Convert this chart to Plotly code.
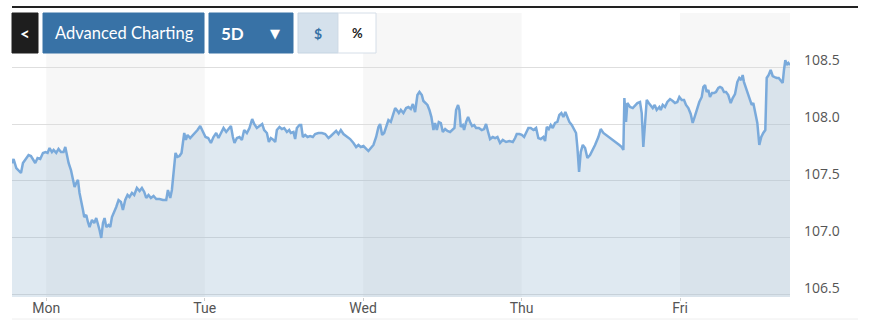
import plotly.graph_objects as go

# ---- data (hours since Monday 00:00, price) ----
hours = [
    -5.19, -4.95, -4.54, -4.19, -3.83, -3.53, -3.18, -2.68, -2.32, -1.92,
    -1.67, -1.32, -0.91, -0.50, -0.11, 0.20, 0.50, 0.86, 1.11, 1.51,
    1.86, 2.23, 2.62, 2.88, 3.13, 3.38, 3.74, 4.04, 4.29, 4.54,
    4.80, 5.04, 5.30, 5.56, 5.75, 6.06, 6.31, 6.56, 6.92, 7.27,
    7.57, 7.77, 8.07, 8.33, 8.59, 8.83, 9.09, 9.43, 9.69, 9.95,
    10.30, 10.60, 10.95, 11.31, 11.61, 11.96, 12.31, 12.61, 12.98, 13.32,
    13.73, 14.13,
    14.49, 14.84, 15.14, 15.49, 15.85, 16.25, 16.66, 17.16, 17.67, 18.17,
    18.43, 18.78, 19.03, 19.28, 19.58, 19.88, 20.18, 20.49, 20.70, 20.90,
    21.15, 21.40, 21.80, 22.21, 22.56, 22.91, 23.32, 23.73, 24.12, 24.53,
    24.94, 25.33, 25.74, 26.09, 26.50, 26.85, 27.26, 27.66, 27.97, 28.27,
    28.51, 28.88, 29.27, 29.63, 29.98, 30.39, 30.78, 31.19, 31.50, 31.90,
    32.30, 32.71, 33.01, 33.42, 33.72,
    34.02, 34.42, 34.68, 34.93, 35.33, 35.69, 36.04, 36.45, 36.80, 37.05,
    37.45, 37.70, 37.96, 38.36, 38.61, 38.87, 39.22, 39.57, 39.97, 40.38,
    40.73, 41.23, 41.75, 42.25, 42.75, 43.11, 43.50, 43.91, 44.26, 44.62,
    45.02, 45.53, 46.03, 46.53, 46.94, 47.29, 47.65, 48.05, 48.45, 48.80,
    49.17, 49.56, 49.97, 50.32, 50.57, 50.88, 51.18, 51.48, 51.83, 52.19,
    52.50, 52.85, 53.10, 53.41,
    53.71, 54.10, 54.51, 54.86, 55.22, 55.53, 55.87, 56.22, 56.53, 56.89,
    57.13, 57.43, 57.74, 58.04, 58.34, 58.65, 58.90, 59.16, 59.46, 59.77,
    60.07, 60.42, 60.77, 61.17, 61.58, 61.83, 62.08, 62.38, 62.58, 62.79,
    63.10, 63.29, 63.60, 63.90, 64.20, 64.50, 64.81, 65.11, 65.52, 65.97,
    66.32, 66.62, 66.93, 67.23, 67.64, 67.99, 68.34, 68.74, 69.15, 69.65,
    70.15, 70.67, 71.02, 71.27, 71.67, 72.03, 72.38, 72.68, 73.03,
    73.39, 73.79, 74.20, 74.54, 74.91, 75.30, 75.56, 75.82, 76.12, 76.42,
    76.72, 77.07, 77.42, 77.72, 78.03, 78.33, 78.63, 78.94, 79.24, 79.60,
    79.95, 80.25, 80.45, 80.71, 80.96, 81.27, 81.62, 81.97, 82.37, 82.78,
    83.13, 83.63, 83.99, 84.39, 84.80, 85.30, 85.81, 86.31, 86.81, 87.17,
    87.42, 87.57, 87.82, 88.02, 88.43, 88.84, 89.19, 89.54, 89.94, 90.20,
    90.44, 90.70, 90.96, 91.26, 91.56, 91.87, 92.17, 92.47, 92.87,
    93.08, 93.38, 93.73, 94.08, 94.49, 94.90, 95.24, 95.59, 95.90, 96.26,
    96.61, 96.91, 97.26, 97.62, 97.92, 98.17, 98.53, 98.92, 99.29, 99.53,
    99.79, 100.04, 100.29, 100.54, 100.85, 101.15, 101.45, 101.80, 102.06, 102.36,
    102.66, 102.97, 103.31, 103.68, 103.98, 104.33, 104.68, 104.98, 105.28, 105.49,
    105.69, 105.99, 106.30, 106.60, 106.86, 107.10, 107.40, 107.71, 108.01, 108.31,
    108.61, 108.92, 109.13, 109.43, 109.73, 110.04, 110.34, 110.64, 110.95, 111.25,
    111.55, 111.75, 111.95, 112.16, 112.40, 112.66,
]

prices = [
    107.655, 107.693, 107.614, 107.596, 107.570, 107.658, 107.684, 107.728, 107.719, 107.678,
    107.658, 107.702, 107.693, 107.746, 107.754, 107.746, 107.789, 107.754, 107.772, 107.746,
    107.781, 107.754, 107.754, 107.798, 107.711, 107.658, 107.596, 107.509, 107.447, 107.482,
    107.509, 107.395, 107.333, 107.246, 107.184, 107.202, 107.140, 107.096, 107.158, 107.132,
    107.175, 107.140, 107.070, 107.000, 107.132, 107.175, 107.096, 107.114, 107.096, 107.184,
    107.228, 107.272, 107.333, 107.316, 107.246, 107.333, 107.377, 107.360, 107.395, 107.377,
    107.439, 107.412,
    107.439, 107.404, 107.351, 107.377, 107.351, 107.368, 107.342, 107.342, 107.333, 107.333,
    107.421, 107.351, 107.421, 107.596, 107.746, 107.711, 107.719, 107.746, 107.833, 107.921,
    107.860, 107.904, 107.877, 107.904, 107.921, 107.947, 107.982, 107.930, 107.886, 107.877,
    107.833, 107.886, 107.921, 107.877, 107.930, 107.965, 107.930, 107.965, 107.982, 107.886,
    107.833, 107.877, 107.886, 107.860, 107.947, 107.921, 107.965, 108.044, 108.000, 107.965,
    107.982, 108.000, 107.947, 107.921, 107.842,
    107.877, 107.860, 107.842, 107.947, 107.974, 107.956, 107.965, 107.930, 107.947, 107.921,
    107.930, 107.868, 107.965, 107.991, 107.991, 107.886, 107.904, 107.886, 107.895, 107.886,
    107.912, 107.921, 107.921, 107.912, 107.877, 107.895, 107.921, 107.939, 107.912, 107.947,
    107.912, 107.886, 107.868, 107.833, 107.798, 107.816, 107.798, 107.807, 107.781, 107.763,
    107.789, 107.816, 107.886, 107.974, 108.000, 107.904, 107.921, 107.974, 108.035, 108.018,
    108.070, 108.140, 108.123, 108.096,
    108.123, 108.096, 108.140, 108.149, 108.132, 108.175, 108.105, 108.254, 108.281, 108.254,
    108.202, 108.184, 108.167, 108.123, 108.061, 107.947, 108.009, 107.947, 108.018, 108.009,
    107.930, 107.956, 107.939, 107.930, 107.947, 107.965, 108.123, 108.167, 108.123, 107.974,
    107.991, 107.947, 108.018, 108.061, 108.018, 107.982, 107.991, 107.965, 107.965, 107.947,
    107.956, 108.000, 107.930, 107.868, 107.886, 107.877, 107.886, 107.833, 107.860, 107.842,
    107.851, 107.842, 107.877, 107.912, 107.912, 107.904, 107.886, 107.930, 107.965,
    107.965, 107.947, 107.965, 107.877, 107.868, 107.886, 107.851, 107.974, 107.956, 107.991,
    107.965, 108.009, 108.018, 108.079, 108.096, 108.061, 108.105, 108.061, 108.018, 107.991,
    107.947, 107.921, 107.798, 107.579, 107.754, 107.816, 107.789, 107.702, 107.728, 107.772,
    107.816, 107.886, 107.956, 107.921, 107.904, 107.877, 107.860, 107.842, 107.816, 107.798,
    107.772, 108.228, 108.018, 108.184, 108.149, 108.140, 108.158, 108.184, 108.193, 108.096,
    107.798, 107.974, 108.211, 108.184, 108.158, 108.140, 108.167, 108.123, 108.149,
    108.123, 108.167, 108.149, 108.193, 108.219, 108.202, 108.184, 108.193, 108.237, 108.211,
    108.211, 108.167, 108.140, 108.088, 108.009, 108.053, 108.123, 108.193, 108.237, 108.325,
    108.342, 108.281, 108.298, 108.237, 108.272, 108.272, 108.281, 108.316, 108.325, 108.316,
    108.281, 108.281, 108.254, 108.184, 108.228, 108.263, 108.368, 108.404, 108.386, 108.430,
    108.368, 108.316, 108.272, 108.211, 108.167, 108.184, 108.096, 108.009, 107.816, 107.886,
    107.921, 107.947, 108.404, 108.430, 108.474, 108.421, 108.412, 108.404, 108.404, 108.386,
    108.360, 108.474, 108.561, 108.518, 108.535, 108.518,
]

day_ticks = [0, 24, 48, 72, 96]
day_labels = ["Mon", "Tue", "Wed", "Thu", "Fri"]
shaded_days = [(0, 24), (48, 72), (96, 112.66)]
y_ticks = [106.5, 107.0, 107.5, 108.0, 108.5]
y_tick_labels = ["106.5", "107.0", "107.5", "108.0", "108.5"]

# ---- layout geometry helpers (pixel -> paper) ----
W, H = 870, 332
L, R, T, B = 12, 80, 13, 35
PW, PH = W - L - R, H - T - B


def px(x):
    return (x - L) / PW


def py(y):
    return (H - B - y) / PH


fig = go.Figure()
fig.add_trace(go.Scatter(
    x=hours, y=prices, mode="lines",
    line=dict(color="#7aaadb", width=2.5),
    fill="tozeroy", fillcolor="rgba(140,175,205,0.28)",
    hoverinfo="skip", showlegend=False,
))

shapes = []
for a, b in shaded_days:
    shapes.append(dict(type="rect", xref="x", yref="paper", x0=a, x1=b, y0=0, y1=1,
                       fillcolor="#f7f7f7", line=dict(width=0), layer="below"))
# top dark rule
shapes.append(dict(type="line", xref="paper", yref="paper", x0=px(12), x1=px(858),
                   y0=py(7), y1=py(7), line=dict(color="#222222", width=2)))
# bottom faint rule
shapes.append(dict(type="line", xref="paper", yref="paper", x0=px(12), x1=px(858),
                   y0=py(319), y1=py(319), line=dict(color="#eeeeee", width=1)))

BLUE = "#3872a6"
buttons = [
    (12, 38, "#1e1e1e", None),
    (43, 204, BLUE, None),
    (209, 293, BLUE, None),
    (298, 338, "#d5e1ec", "#c5d4e2"),
    (338, 376, "#ffffff", "#d5dee8"),
]
for x0, x1, fc, lc in buttons:
    shapes.append(dict(type="rect", xref="paper", yref="paper",
                       x0=px(x0), x1=px(x1), y0=py(53), y1=py(13),
                       fillcolor=fc, layer="above",
                       line=dict(color=lc if lc else fc, width=1)))

annotations = []


def label(x, text, color, size, family="Lato", xanchor="center"):
    annotations.append(dict(xref="paper", yref="paper", x=px(x), y=py(33),
                            text=text, showarrow=False, xanchor=xanchor, yanchor="middle",
                            font=dict(color=color, size=size, family=family)))


label(25, "<b>&lt;</b>", "#ffffff", 17)
label(124, "Advanced Charting", "#ffffff", 16.5)
label(233, "<b>5D</b>", "#ffffff", 17)
label(275, "▼", "#ffffff", 13, family="DejaVu Sans")
label(318, "<b>$</b>", BLUE, 14)
label(357, "<b>%</b>", "#222222", 13)

fig.update_layout(
    width=W, height=H,
    margin=dict(l=L, r=R, t=T, b=B),
    paper_bgcolor="white", plot_bgcolor="white",
    shapes=shapes, annotations=annotations,
    xaxis=dict(
        range=[hours[0], hours[-1]], tickvals=day_ticks, ticktext=day_labels,
        showgrid=False, zeroline=False, showline=False,
        ticks="outside", ticklen=3, tickcolor="#cccccc", ticklabelstandoff=-5,
        tickfont=dict(family="Liberation Sans Narrow, Roboto, sans-serif", size=14, color="#555555"),
    ),
    yaxis=dict(
        side="right", range=[106.482, 108.974],
        tickvals=y_ticks, ticktext=y_tick_labels,
        showgrid=True, gridcolor="#dedede", gridwidth=1, zeroline=False,
        ticklabelshift=-7, ticklabelstandoff=13,
        tickfont=dict(family="Open Sans", size=14, color="#555555"),
    ),
)

fig.write_html("out.html")
